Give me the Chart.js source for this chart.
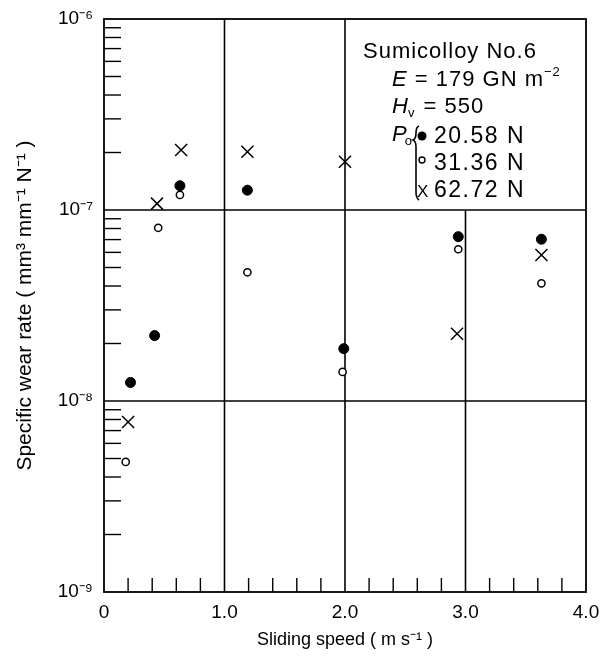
<!DOCTYPE html>
<html>
<head>
<meta charset="utf-8">
<script src="https://cdn.jsdelivr.net/npm/chart.js@4.4.1/dist/chart.umd.min.js"></script>
<style>
  html, body { margin: 0; padding: 0; background: #fff; }
</style>
</head>
<body>
<canvas id="wearChart" width="602" height="662"></canvas>
<script>
// Sliding speed (m/s) and specific wear rate for each load
const speedLow = [0.22, 0.42, 0.63, 1.19, 1.99, 2.94, 3.63];
const wearLow = [1.25e-8, 2.2e-8, 1.34e-7, 1.27e-7, 1.88e-8, 7.25e-8, 7.03e-8];

const speedMid = [0.18, 0.45, 0.63, 1.19, 1.98, 2.94, 3.63];
const wearMid = [4.8e-9, 8.07e-8, 1.2e-7, 4.72e-8, 1.42e-8, 6.23e-8, 4.13e-8];

const speedHigh = [0.20, 0.44, 0.64, 1.19, 2.00, 2.93, 3.63];
const wearHigh = [7.76e-9, 1.08e-7, 2.06e-7, 2.02e-7, 1.79e-7, 2.25e-8, 5.81e-8];

const loadLabels = ["20.58 N", "31.36 N", "62.72 N"];

const xTickValues = [0, 1, 2, 3, 4];
const xTickLabels = ["0", "1.0", "2.0", "3.0", "4.0"];
const yTickValues = [1e-9, 1e-8, 1e-7, 1e-6];
const yTickLabels = ["10\u207B\u2079", "10\u207B\u2078", "10\u207B\u2077", "10\u207B\u2076"];

const xMinorStep = 0.2;
const yMinorFactors = [2, 3, 4, 5, 6, 7, 8, 9];

const FONT = "'Liberation Sans', Arial, sans-serif";

function toPoints(xs, ys) {
  return xs.map((v, i) => ({ x: v, y: ys[i] }));
}

// Frame, grid lines and inside minor ticks
const gridPlugin = {
  id: "paperGrid",
  beforeDatasetsDraw(chart) {
    const { ctx, chartArea: a, scales: { x, y } } = chart;
    ctx.save();
    ctx.strokeStyle = "#000";
    ctx.lineWidth = 1.6;

    // vertical lines at 1.0 and 2.0 full height, 3.0 only below the legend box
    [1, 2].forEach((v) => {
      const px = x.getPixelForValue(v);
      ctx.beginPath(); ctx.moveTo(px, a.top); ctx.lineTo(px, a.bottom); ctx.stroke();
    });
    const p3 = x.getPixelForValue(3);
    ctx.beginPath(); ctx.moveTo(p3, y.getPixelForValue(1e-7)); ctx.lineTo(p3, a.bottom); ctx.stroke();

    // horizontal decade lines
    [1e-7, 1e-8].forEach((v) => {
      const py = y.getPixelForValue(v);
      ctx.beginPath(); ctx.moveTo(a.left, py); ctx.lineTo(a.right, py); ctx.stroke();
    });

    // minor ticks on y axis
    ctx.lineWidth = 1.4;
    for (let n = -9; n < -6; n++) {
      yMinorFactors.forEach((k) => {
        const py = y.getPixelForValue(k * Math.pow(10, n));
        ctx.beginPath(); ctx.moveTo(a.left, py); ctx.lineTo(a.left + 17, py); ctx.stroke();
      });
    }
    // minor ticks on x axis
    for (let i = 1; i < 20; i++) {
      if (i % 5 === 0) continue;
      const px = x.getPixelForValue(i * xMinorStep);
      ctx.beginPath(); ctx.moveTo(px, a.bottom); ctx.lineTo(px, a.bottom - 14); ctx.stroke();
    }

    // frame
    ctx.lineWidth = 1.8;
    ctx.strokeRect(a.left, a.top, a.right - a.left, a.bottom - a.top);
    ctx.restore();
  }
};

// Material info and load key, top right
const notePlugin = {
  id: "materialNote",
  afterDraw(chart) {
    const { ctx } = chart;
    ctx.save();
    ctx.fillStyle = "#000";
    ctx.strokeStyle = "#000";
    ctx.textBaseline = "alphabetic";
    ctx.textAlign = "left";
    ctx.letterSpacing = "1px";

    const big = "22px " + FONT;
    const ital = "italic 22px " + FONT;
    const small = "13px " + FONT;

    ctx.font = big;
    ctx.fillText("Sumicolloy No.6", 363, 58);

    // E = 179 GN m^-2
    ctx.font = ital;
    ctx.fillText("E", 392, 86);
    let w = ctx.measureText("E").width;
    ctx.font = big;
    ctx.fillText(" = 179 GN m", 392 + w, 86);
    w += ctx.measureText(" = 179 GN m").width;
    ctx.font = small;
    ctx.fillText("\u22122", 392 + w, 76);

    // Hv = 550
    ctx.font = ital;
    ctx.fillText("H", 392, 113);
    w = ctx.measureText("H").width;
    ctx.font = small;
    ctx.fillText("v", 392 + w - 1, 117);
    w += ctx.measureText("v").width;
    ctx.font = big;
    ctx.fillText(" = 550", 392 + w, 113);

    // Po
    ctx.letterSpacing = "0px";
    ctx.font = ital;
    ctx.fillText("P", 392, 141);
    w = ctx.measureText("P").width;
    ctx.font = small;
    ctx.fillText("o", 392 + w - 2, 145);

    // brace
    ctx.lineWidth = 1.6;
    ctx.beginPath();
    ctx.moveTo(419, 126);
    ctx.quadraticCurveTo(416, 127, 416, 133);
    ctx.quadraticCurveTo(416, 139, 413, 140);
    ctx.quadraticCurveTo(416, 141, 416, 147);
    ctx.lineTo(416, 192);
    ctx.quadraticCurveTo(416, 198, 419, 200);
    ctx.stroke();

    // key symbols
    ctx.beginPath(); ctx.arc(422, 136, 4.5, 0, Math.PI * 2); ctx.fill();
    ctx.lineWidth = 1.4;
    ctx.beginPath(); ctx.arc(422, 160, 3, 0, Math.PI * 2); ctx.stroke();
    ctx.font = "17px " + FONT;
    ctx.fillText("X", 417, 197);

    ctx.letterSpacing = "1.5px";
    ctx.font = "23px " + FONT;
    ctx.fillText(loadLabels[0], 434, 143);
    ctx.fillText(loadLabels[1], 434, 170);
    ctx.fillText(loadLabels[2], 434, 197);
    ctx.restore();
  }
};

new Chart(document.getElementById("wearChart"), {
  type: "scatter",
  data: {
    datasets: [
      {
        label: loadLabels[0],
        data: toPoints(speedLow, wearLow),
        pointStyle: "circle",
        pointRadius: 5,
        backgroundColor: "#000",
        borderColor: "#000",
        borderWidth: 1
      },
      {
        label: loadLabels[1],
        data: toPoints(speedMid, wearMid),
        pointStyle: "circle",
        pointRadius: 3.6,
        backgroundColor: "#fff",
        borderColor: "#000",
        borderWidth: 1.5
      },
      {
        label: loadLabels[2],
        data: toPoints(speedHigh, wearHigh),
        pointStyle: "crossRot",
        pointRadius: 8.5,
        borderColor: "#000",
        borderWidth: 1.5
      }
    ]
  },
  options: {
    responsive: false,
    animation: false,
    layout: { padding: { left: 0, right: 16, top: 19, bottom: 0 } },
    plugins: {
      legend: { display: false },
      tooltip: { enabled: false }
    },
    scales: {
      x: {
        type: "linear",
        min: 0,
        max: 4,
        afterBuildTicks: (scale) => { scale.ticks = xTickValues.map((v) => ({ value: v })); },
        afterFit: (scale) => {
          scale.height = 70;
          scale.paddingLeft = 0;
          scale.paddingRight = 0;
        },
        grid: { display: false, drawTicks: false },
        border: { display: false },
        ticks: {
          color: "#000",
          padding: 9,
          maxRotation: 0,
          font: { family: FONT, size: 19 },
          callback: (value, index) => xTickLabels[index]
        },
        title: {
          display: true,
          text: "Sliding speed ( m s\u207B\u00B9 )",
          color: "#000",
          font: { family: FONT, size: 18 },
          padding: { top: 0, bottom: 11 }
        }
      },
      y: {
        type: "logarithmic",
        min: 1e-9,
        max: 1e-6,
        afterBuildTicks: (scale) => { scale.ticks = yTickValues.map((v) => ({ value: v })); },
        afterFit: (scale) => {
          scale.width = 104;
          scale.paddingTop = 0;
          scale.paddingBottom = 0;
        },
        grid: { display: false, drawTicks: false },
        border: { display: false },
        ticks: {
          color: "#000",
          padding: 11,
          font: { family: FONT, size: 19 },
          callback: (value, index) => yTickLabels[index]
        },
        title: {
          display: true,
          text: "Specific wear rate ( mm\u00B3 mm\u207B\u00B9 N\u207B\u00B9 )",
          color: "#000",
          font: { family: FONT, size: 21 },
          padding: { top: 13, bottom: 0 }
        }
      }
    }
  },
  plugins: [gridPlugin, notePlugin]
});
</script>
</body>
</html>
